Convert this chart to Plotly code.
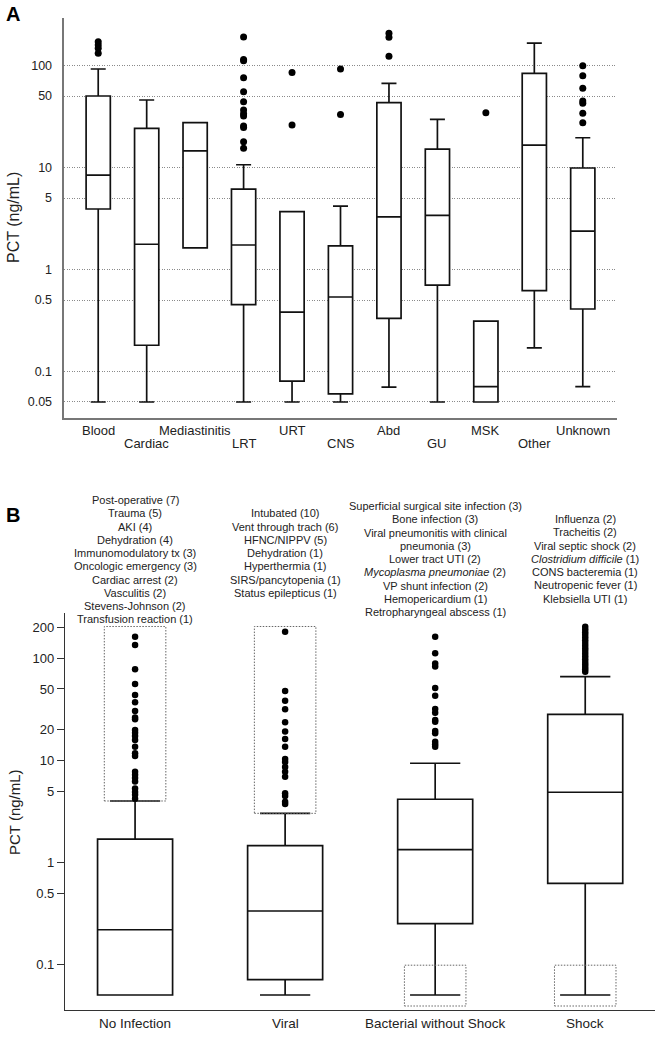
import plotly.graph_objects as go

# ---------------- Panel A data ----------------
cats_a = ["Blood", "Cardiac", "Mediastinitis", "LRT", "URT", "CNS",
          "Abd", "GU", "MSK", "Other", "Unknown"]
q1_a = [3.9, 0.18, 1.62, 0.45, 0.080, 0.060, 0.33, 0.70, 0.05, 0.617, 0.408]
med_a = [8.4, 1.76, 14.5, 1.73, 0.38, 0.535, 3.26, 3.38, 0.0706, 16.5, 2.37]
q3_a = [50, 24.1, 27.4, 6.1, 3.67, 1.70, 43, 15.1, 0.311, 83.5, 9.84]
lo_a = [0.05, 0.05, 1.62, 0.05, 0.05, 0.05, 0.070, 0.05, 0.05, 0.170, 0.0706]
hi_a = [92, 45.7, 27.4, 10.6, 3.67, 4.17, 66.6, 29.5, 0.311, 165, 19.5]

out_blood = [170, 158, 147, 131]
out_cardiac = []
out_mediastinitis = []
out_lrt = [190, 114, 111, 75.5, 55, 44, 36.5, 33.5, 31.8, 25.4, 24.5, 17.8, 15.4]
out_urt = [85, 26]
out_cns = [92, 33]
out_abd = [206, 188, 123]
out_gu = []
out_msk = [34.3]
out_other = []
out_unknown = [99, 79, 59.5, 44.7, 42.4, 33.8, 27.4]
outliers_a = [out_blood, out_cardiac, out_mediastinitis, out_lrt, out_urt, out_cns,
              out_abd, out_gu, out_msk, out_other, out_unknown]

ticks_a = [0.05, 0.1, 0.5, 1, 5, 10, 50, 100]
ticktext_a = ["0.05", "0.1", "0.5", "1", "5", "10", "50", "100"]

# ---------------- Panel B data ----------------
cats_b = ["No Infection", "Viral", "Bacterial without Shock", "Shock"]
q1_b = [0.05, 0.0706, 0.25, 0.622]
med_b = [0.218, 0.333, 1.33, 4.86]
q3_b = [1.69, 1.455, 4.15, 28.2]
lo_b = [0.05, 0.05, 0.05, 0.05]
hi_b = [3.99, 3.02, 9.35, 66]

out_none = [163, 135, 78, 56, 43.6, 37, 30.4, 26.3, 25.2, 19.8, 18.6, 17.3, 15.8,
            13.6, 11.7, 11.0, 7.7, 7.2, 6.7, 6.2, 5.3, 4.9, 4.6, 4.2]
out_viral = [182, 47.8, 38.4, 31.6, 23.6, 19.2, 16.2, 13.6, 10.3, 9.6, 8.6, 7.7,
             6.9, 4.75, 4.47, 3.93, 3.73]
out_bact = [163, 112, 89, 83, 51, 43, 31.8, 29.3, 24.8, 23.9, 19.4, 18.4, 15.2,
            14.4, 13.6]
out_shock = [204, 192, 180, 170, 160, 150, 141, 133, 125, 118, 111, 104, 98, 92,
             87, 82, 78, 74]
outliers_b = [out_none, out_viral, out_bact, out_shock]

# highlighted (dotted) regions per group: low / high PCT value
hl_low = [3.99, 3.02, 0.039, 0.039]
hl_high = [205, 205, 0.098, 0.098]

notes_none = ["Post-operative (7)", "Trauma (5)", "AKI (4)", "Dehydration (4)",
              "Immunomodulatory tx (3)", "Oncologic emergency (3)", "Cardiac arrest (2)",
              "Vasculitis (2)", "Stevens-Johnson (2)", "Transfusion reaction (1)"]
notes_viral = ["Intubated (10)", "Vent through trach (6)", "HFNC/NIPPV (5)",
               "Dehydration (1)", "Hyperthermia (1)", "SIRS/pancytopenia (1)",
               "Status epilepticus (1)"]
notes_bact = ["Superficial surgical site infection (3)", "Bone infection (3)",
              "Viral pneumonitis with clinical", "pneumonia (3)", "Lower tract UTI (2)",
              "<i>Mycoplasma pneumoniae</i> (2)", "VP shunt infection (2)",
              "Hemopericardium (1)", "Retropharyngeal abscess (1)"]
notes_shock = ["Influenza (2)", "Tracheitis (2)", "Viral septic shock (2)",
               "<i>Clostridium difficile</i> (1)", "CONS bacteremia (1)",
               "Neutropenic fever (1)", "Klebsiella UTI (1)"]
notes_b = [notes_none, notes_viral, notes_bact, notes_shock]

ticks_b = [0.1, 0.5, 1, 5, 10, 20, 50, 100, 200]
ticktext_b = ["0.1", "0.5", "1", "5", "10", "20", "50", "100", "200"]

# ---------------- Figure ----------------
W, H = 659, 1050
FONT = "Liberation Sans, Arial, sans-serif"


def px_x(p):
    return p / W


def px_y(p):
    return 1 - p / H


fig = go.Figure()

xa = list(range(len(cats_a)))
fig.add_trace(go.Box(
    x=xa, q1=q1_a, median=med_a, q3=q3_a, lowerfence=lo_a, upperfence=hi_a,
    xaxis="x", yaxis="y", width=0.5, whiskerwidth=0.62, fillcolor="white",
    line=dict(color="#111111", width=1.7), boxpoints=False, showlegend=False,
    hoverinfo="skip"))
ox, oy = [], []
for i, vals in enumerate(outliers_a):
    ox += [i] * len(vals)
    oy += vals
fig.add_trace(go.Scatter(x=ox, y=oy, mode="markers", xaxis="x", yaxis="y",
                         marker=dict(color="black", size=7), showlegend=False,
                         hoverinfo="skip"))

xb = list(range(len(cats_b)))
# dotted highlight rectangles
for i in xb:
    hw = 0.205
    fig.add_trace(go.Scatter(
        x=[i - hw, i + hw, i + hw, i - hw, i - hw],
        y=[hl_low[i], hl_low[i], hl_high[i], hl_high[i], hl_low[i]],
        mode="lines", xaxis="x2", yaxis="y2",
        line=dict(color="#666666", width=1, dash="1.5px,1.5px"),
        showlegend=False, hoverinfo="skip"))
fig.add_trace(go.Box(
    x=xb, q1=q1_b, median=med_b, q3=q3_b, lowerfence=lo_b, upperfence=hi_b,
    xaxis="x2", yaxis="y2", width=0.5, whiskerwidth=0.67, fillcolor="white",
    line=dict(color="#111111", width=1.7), boxpoints=False, showlegend=False,
    hoverinfo="skip"))
ox, oy = [], []
for i, vals in enumerate(outliers_b):
    ox += [i] * len(vals)
    oy += vals
fig.add_trace(go.Scatter(x=ox, y=oy, mode="markers", xaxis="x2", yaxis="y2",
                         marker=dict(color="black", size=6.5), showlegend=False,
                         hoverinfo="skip"))

annotations = []
# Panel labels
annotations.append(dict(text="<b>A</b>", x=px_x(12.5), y=px_y(14), xref="paper", yref="paper",
                        showarrow=False, font=dict(size=20, color="black", family=FONT),
                        xanchor="center", yanchor="middle"))
annotations.append(dict(text="<b>B</b>", x=px_x(12.5), y=px_y(515), xref="paper", yref="paper",
                        showarrow=False, font=dict(size=20, color="black", family=FONT),
                        xanchor="center", yanchor="middle"))
# Y titles
annotations.append(dict(text="PCT (ng/mL)", x=px_x(14), y=px_y(218), xref="paper", yref="paper",
                        showarrow=False, textangle=-90,
                        font=dict(size=16, color="#222222", family=FONT),
                        xanchor="center", yanchor="middle"))
annotations.append(dict(text="PCT (ng/mL)", x=px_x(14), y=px_y(812), xref="paper", yref="paper",
                        showarrow=False, textangle=-90,
                        font=dict(size=15, color="#222222", family=FONT),
                        xanchor="center", yanchor="middle"))
# Panel A staggered category labels
for i, c in enumerate(cats_a):
    annotations.append(dict(text=c, x=i, xref="x", y=px_y(431 if i % 2 == 0 else 444),
                            yref="paper", showarrow=False,
                            font=dict(size=13, color="#222222", family=FONT),
                            xanchor="center", yanchor="middle"))
# Panel B category labels
for i, c in enumerate(cats_b):
    annotations.append(dict(text=c, x=i, xref="x2", y=px_y(1023), yref="paper",
                            showarrow=False,
                            font=dict(size=13.5, color="#222222", family=FONT),
                            xanchor="center", yanchor="middle"))
# Panel B notes
tops = [500, 513.3, 506, 519]
spacing = 13.25
for i, lines in enumerate(notes_b):
    for k, t in enumerate(lines):
        annotations.append(dict(text=t, x=i, xref="x2", y=px_y(tops[i] + k * spacing),
                                yref="paper", showarrow=False,
                                font=dict(size=11, color="#222222", family=FONT),
                                xanchor="center", yanchor="middle"))

fig.update_layout(
    width=W, height=H, autosize=False,
    margin=dict(l=0, r=0, t=0, b=0),
    paper_bgcolor="white", plot_bgcolor="white",
    font=dict(family=FONT, color="#222222"),
    showlegend=False,
    xaxis=dict(domain=[px_x(64.3), px_x(616.7)], range=[-0.7, 10.7], anchor="y",
               showticklabels=False, showgrid=False, zeroline=False, ticks="",
               showline=True, linecolor="#777777", linewidth=1.5),
    yaxis=dict(domain=[px_y(418.3), px_y(18)], type="log", range=[-1.461, 2.464], anchor="x",
               tickvals=ticks_a, ticktext=ticktext_a, ticks="",
               tickfont=dict(size=12.5, color="#222222"), ticklabelstandoff=8,
               showgrid=True, gridcolor="#8a8a8a", griddash="1px,1.5px", gridwidth=1,
               showline=True, linecolor="#777777", linewidth=1.5, zeroline=False),
    xaxis2=dict(domain=[px_x(65), px_x(655)], range=[-0.467, 3.465], anchor="y2",
                tickvals=xb, showticklabels=False, ticks="",
                showgrid=False, zeroline=False,
                showline=True, linecolor="#333333", linewidth=1.3),
    yaxis2=dict(domain=[px_y(1010.3), px_y(613)], type="log", range=[-1.451, 2.444], anchor="x2",
                tickvals=ticks_b, ticktext=ticktext_b, ticks="outside", ticklen=7,
                tickcolor="#333333", tickwidth=1.3,
                tickfont=dict(size=13, color="#222222"),
                showgrid=False, zeroline=False,
                showline=True, linecolor="#333333", linewidth=1.3),
    annotations=annotations,
)

# remove the browser's default page margin so the figure sits at the window origin
fig.write_html("out.html",
               config={"displayModeBar": False},
               post_script="document.body.style.margin='0px';document.body.style.padding='0px';")
